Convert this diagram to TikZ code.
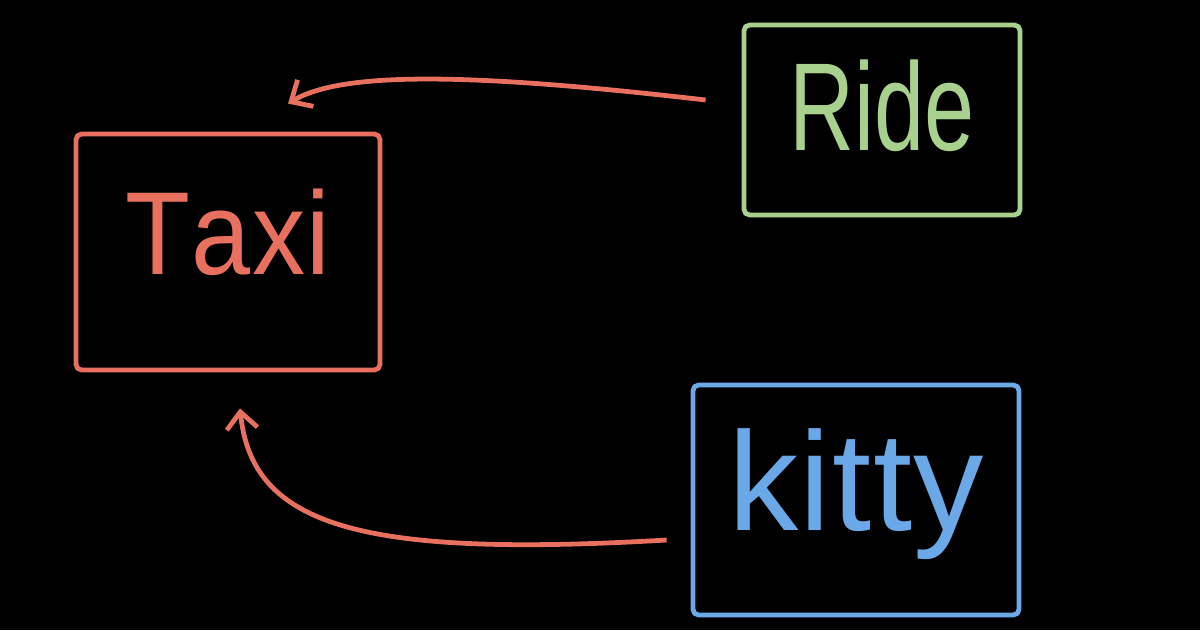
\documentclass[tikz,border=0pt]{standalone}
\usepackage{fontspec}
\setmainfont{Liberation Sans}
\usepackage{xcolor}
\usetikzlibrary{arrows.meta, positioning}

\definecolor{taxired}{HTML}{E8705F}
\definecolor{ridegreen}{HTML}{A9D18E}
\definecolor{kittyblue}{HTML}{6AA8E8}

\begin{document}
\begin{tikzpicture}[
    box/.style={rectangle, rounded corners=4pt, line width=3.4pt, align=center},
    arrow/.style={-{Straight Barb[length=12pt, width=22pt, line width=3.4pt]}, line width=3.4pt, taxired}
]
\fill[black] (0,0) rectangle (30,15.75);
\useasboundingbox (0,0) rectangle (30,15.75);

\node[box, draw=taxired, text=taxired, minimum width=7.6cm, minimum height=5.9cm, font=\fontsize{84}{84}\selectfont] (taxi) at (5.7,9.45) {\raisebox{1.0cm}{\scalebox{0.9}[1]{T\kern1pt a\kern1pt x\kern1pt i}}};
\node[box, draw=ridegreen, text=ridegreen, minimum width=6.9cm, minimum height=4.75cm, font=\fontsize{89}{89}\selectfont] (ride) at (22.05,12.75) {\raisebox{0.75cm}{\scalebox{0.72}[1]{Ride}}};
\node[box, draw=kittyblue, text=kittyblue, minimum width=8.15cm, minimum height=5.75cm, font=\fontsize{100}{100}\selectfont] (kitty) at (21.4,3.25) {\raisebox{1.0cm}{k\kern1pt i\kern1pt t\kern1pt t\kern1pt y}};

\coordinate (rideout) at ([xshift=-0.9cm,yshift=0.5cm]ride.west);
\coordinate (taxitop) at ([xshift=1.5cm,yshift=0.7cm]taxi.north);
\coordinate (kittyout) at ([xshift=-0.6cm,yshift=-1.0cm]kitty.west);
\coordinate (taxibot) at ([xshift=0.3cm,yshift=-0.9cm]taxi.south);

\draw[arrow] (rideout) .. controls (12,13.9) and (8.6,14.0) .. (taxitop);
\draw[arrow] (kittyout) .. controls (9,1.8) and (6.3,2.6) .. (taxibot);

\end{tikzpicture}
\end{document}
